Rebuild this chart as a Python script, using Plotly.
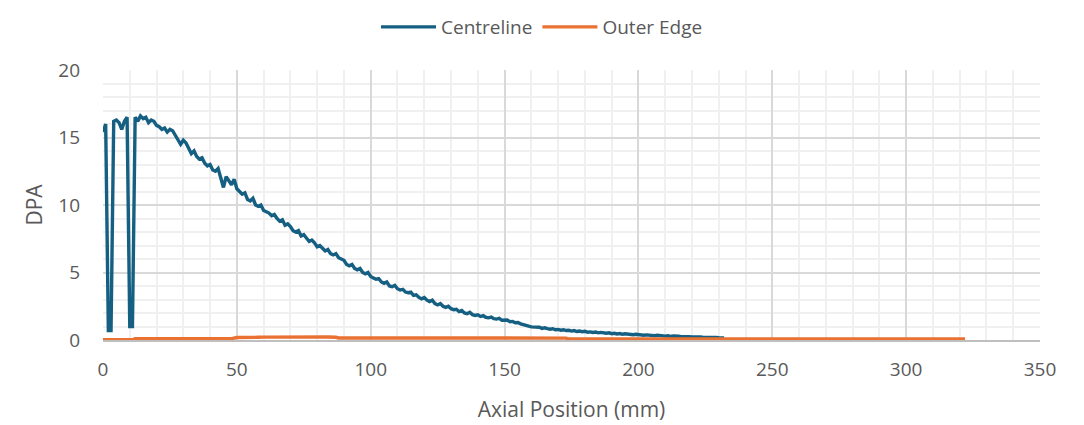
import plotly.graph_objects as go

# ---------------- data ----------------
centre_x = [0, 1, 2, 3, 4, 5, 6, 7, 8, 9, 10, 11] + list(range(12, 233))
centre_y = [
    15.4, 16.0, 0.7, 0.7, 16.2, 16.3, 16.1, 15.6, 16.2, 16.5, 1.0, 1.0,
    # 12-21
    16.5, 16.2, 16.6, 16.4, 16.5, 16.1, 16.3, 16.2, 15.9, 15.8,
    # 22-31
    15.6, 15.7, 15.4, 15.6, 15.5, 15.2, 14.9, 14.5, 14.8, 14.6,
    # 32-41
    14.2, 13.8, 14.0, 13.6, 13.4, 13.5, 13.1, 12.9, 13.0, 12.6,
    # 42-51
    12.5, 12.7, 12.0, 11.3, 12.1, 11.8, 11.5, 11.9, 11.2, 11.0,
    # 52-61
    10.8, 10.9, 10.4, 10.3, 10.5, 10.0, 9.9, 10.0, 9.6, 9.5,
    # 62-71
    9.4, 9.2, 9.3, 9.0, 8.8, 8.9, 8.5, 8.6, 8.4, 8.1,
    # 72-81
    8.0, 8.1, 7.7, 7.8, 7.5, 7.3, 7.4, 7.2, 6.9, 7.0,
    # 82-91
    6.8, 6.6, 6.7, 6.4, 6.3, 6.4, 6.1, 6.0, 5.9, 5.6,
    # 92-101
    5.5, 5.6, 5.3, 5.2, 5.3, 5.0, 4.9, 5.0, 4.7, 4.6,
    # 102-111
    4.5, 4.55, 4.3, 4.2, 4.3, 4.0, 3.95, 4.05, 3.8, 3.7,
    # 112-121
    3.75, 3.55, 3.5, 3.55, 3.3, 3.35, 3.15, 3.05, 3.15, 2.95,
    # 122-131
    2.85, 2.95, 2.7, 2.6, 2.7, 2.5, 2.42, 2.5, 2.32, 2.25,
    # 132-141
    2.28, 2.1, 2.18, 2.0, 1.95, 2.05, 1.88, 1.82, 1.86, 1.74,
    # 142-151
    1.8, 1.68, 1.64, 1.7, 1.58, 1.55, 1.6, 1.46, 1.44, 1.48,
    # 152-161
    1.36, 1.38, 1.28, 1.3, 1.2, 1.16, 1.1, 1.02, 0.97, 0.96,
    # 162-171
    0.92, 0.95, 0.86, 0.9, 0.84, 0.8, 0.84, 0.76, 0.78, 0.73,
    # 172-181
    0.76, 0.7, 0.72, 0.66, 0.7, 0.63, 0.66, 0.61, 0.64, 0.58,
    # 182-191
    0.6, 0.56, 0.59, 0.53, 0.56, 0.52, 0.5, 0.53, 0.47, 0.5,
    # 192-201
    0.45, 0.48, 0.43, 0.46, 0.42, 0.44, 0.39, 0.42, 0.38, 0.4,
    # 202-211
    0.35, 0.38, 0.34, 0.36, 0.32, 0.35, 0.31, 0.33, 0.29, 0.31,
    # 212-221
    0.27, 0.3, 0.26, 0.28, 0.25, 0.27, 0.23, 0.25, 0.22, 0.24,
    # 222-232
    0.21, 0.23, 0.2, 0.21, 0.19, 0.2, 0.18, 0.19, 0.17, 0.16, 0.15,
]

outer_x = [0, 11, 12, 20, 30, 40, 48, 50, 52, 55, 58, 60, 65, 70, 75, 78, 80, 84, 87,
           88, 100, 120, 140, 160, 173, 174, 200, 250, 300, 318, 320, 322]
outer_y = [0.02, 0.02, 0.1, 0.1, 0.1, 0.1, 0.1, 0.18, 0.2, 0.22, 0.2, 0.21, 0.22, 0.21,
           0.2, 0.22, 0.2, 0.22, 0.2, 0.15, 0.15, 0.14, 0.14, 0.14, 0.14, 0.07, 0.07,
           0.07, 0.07, 0.08, 0.1, 0.07]

x_ticks = [0, 50, 100, 150, 200, 250, 300, 350]
y_ticks = [0, 5, 10, 15, 20]

# ---------------- figure ----------------
BLUE = "#156082"
ORANGE = "#E97132"
TXT = "#595959"
FONT = "Open Sans, Lato, sans-serif"

# page body has an 8px margin, so the figure is sized 8px smaller
W, H = 1076, 417

fig = go.Figure()
fig.add_trace(go.Scatter(x=centre_x, y=centre_y, mode="lines", name="Centreline",
                         line=dict(color=BLUE, width=3.4)))
fig.add_trace(go.Scatter(x=outer_x, y=outer_y, mode="lines", name="Outer Edge",
                         line=dict(color=ORANGE, width=3.4)))

fig.update_layout(
    width=W, height=H,
    margin=dict(l=95, r=44, t=62, b=85, autoexpand=False),
    paper_bgcolor="white", plot_bgcolor="white",
    font=dict(family=FONT, color=TXT, size=16),
    legend=dict(orientation="h", xref="container", yref="container",
                x=534 / W, xanchor="center", y=1.0, yanchor="top",
                font=dict(size=19, color=TXT), itemwidth=55,
                bgcolor="rgba(0,0,0,0)"),
    showlegend=True,
)

fig.update_xaxes(
    range=[0, 350], tickvals=x_ticks, ticktext=[str(v) for v in x_ticks],
    showgrid=True, gridcolor="#d9d9d9", gridwidth=1.5,
    minor=dict(dtick=10, tick0=0, showgrid=True, gridcolor="#f0f0f0", gridwidth=1.5),
    zeroline=False, showline=True, linecolor="#bfbfbf", linewidth=1.5,
    ticks="", ticklabelstandoff=11, automargin=False,
    tickfont=dict(size=19, color=TXT),
    title=dict(text="Axial Position (mm)", font=dict(size=21, color=TXT), standoff=22),
)
fig.update_yaxes(
    range=[0, 20], tickvals=y_ticks, ticktext=[str(v) for v in y_ticks],
    showgrid=True, gridcolor="#d9d9d9", gridwidth=1.5,
    minor=dict(dtick=1, tick0=0, showgrid=True, gridcolor="#f0f0f0", gridwidth=1.5),
    zeroline=False, showline=False,
    ticks="", ticklabelstandoff=22, automargin=False,
    tickfont=dict(size=19, color=TXT),
    title=dict(text="DPA", font=dict(size=21, color=TXT), standoff=9),
)

fig.write_html("out.html")
